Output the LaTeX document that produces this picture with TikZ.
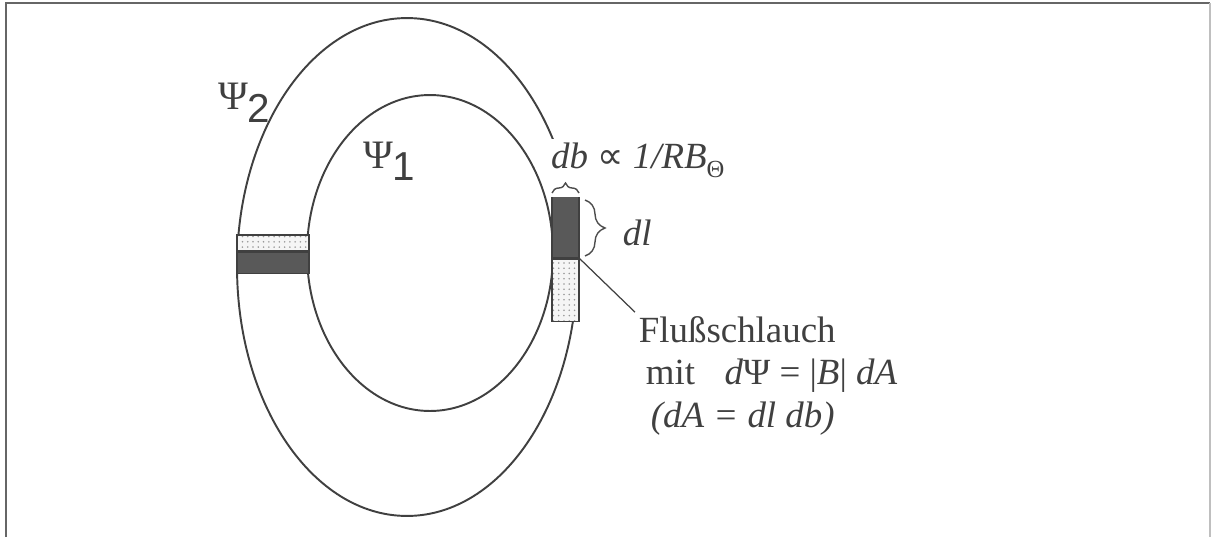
\documentclass[tikz,border=0pt]{standalone}
\usepackage{fontspec}
\setmainfont{Liberation Serif}
\newfontfamily\digitfont{Liberation Sans}
\newfontfamily\symfont{DejaVu Sans}
\usetikzlibrary{positioning, decorations.pathreplacing, patterns}

\begin{document}
\begin{tikzpicture}[
  x=0.02cm, y=-0.02cm,
  every node/.style={text=black!75, font=\fontsize{21}{24}\selectfont, inner sep=2pt},
  ring/.style={draw=black!75, line width=1.1pt},
  frameline/.style={draw=black!60, line width=1.5pt},
  darkseg/.style={draw=black!75, line width=0.6pt, fill=black!65, inner sep=0pt},
  dotseg/.style={draw=black!75, line width=0.6pt, inner sep=0pt,
    preaction={fill=black!4}, pattern=dots, pattern color=black!40},
  psilabel/.style={font=\fontsize{23}{26}\selectfont, inner sep=1pt},
  brc/.style={draw=black!70, line width=0.8pt, decorate},
  leader/.style={draw=black!75, line width=0.7pt}
]
\useasboundingbox (0,0) rectangle (1212,537);
% frame
\draw[frameline] (6,537) -- (6,3) -- (1210,3);
\draw[frameline, draw=black!25] (1210,3) -- (1210,537);
% the two flux surfaces
\draw[ring] (407,267) ellipse [x radius=3.4cm, y radius=4.98cm];
\draw[ring] (430,253) ellipse [x radius=2.46cm, y radius=3.16cm];
% tube cut on the left
\node[dotseg, minimum width=1.44cm, minimum height=0.32cm] (dotL) at (273,243) {};
\node[darkseg, minimum width=1.44cm, minimum height=0.42cm, below=0pt of dotL] (darkL) {};
% tube cut on the right
\node[darkseg, minimum width=0.54cm, minimum height=1.24cm] (darkR) at (565.5,227) {};
\node[dotseg, minimum width=0.54cm, minimum height=1.24cm, below=0pt of darkR] (dotR) {};
% labels of the surfaces
\node[psilabel, anchor=base west] (psitwo) at (216,110) {Ψ\raisebox{-0.26cm}{\digitfont 2}};
\node[psilabel, anchor=base west] (psione) at (361,168) {Ψ\raisebox{-0.26cm}{\digitfont 1}};
% width db
\node[anchor=base west, fill=white, text depth=0.5cm, inner xsep=1pt] (dblabel) at (549,168)
  {\textit{db} {\symfont ∝} \textit{1/RB}\raisebox{-0.2cm}{\fontsize{14}{14}\selectfont Θ}};
\draw[brc, decoration={brace, amplitude=0.2cm}] (552,193) -- (579,193);
% length dl
\draw[brc, decoration={brace, amplitude=0.4cm}] (585,200) -- (585,256);
\node[anchor=base west] (dl) at (619,245) {\textit{dl}};
% explanation
\node[anchor=base west] (fluss) at (635,342) {Flußschlauch};
\node[anchor=base west] (mitline) at (642,384) {mit\hspace{0.55em} \textit{d}Ψ = |\textit{B}| \textit{dA}};
\node[anchor=base west] (dadef) at (647,427) {\textit{(dA = dl db)}};
\draw[leader] (darkR.south east) -- (fluss.north west);
\end{tikzpicture}
\end{document}
